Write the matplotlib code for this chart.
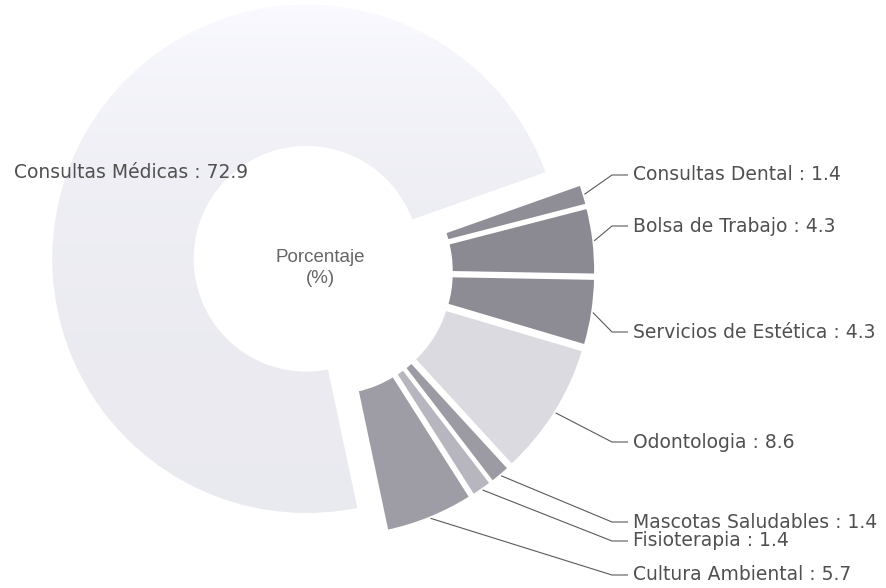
import numpy as np
import matplotlib
matplotlib.use("Agg")
import matplotlib.pyplot as plt

# ---- data ----
categories = ["Consultas Dental", "Bolsa de Trabajo", "Servicios de Estética",
              "Odontologia", "Mascotas Saludables", "Fisioterapia",
              "Cultura Ambiental", "Consultas Médicas"]
values = [1.4, 4.3, 4.3, 8.6, 1.4, 1.4, 5.7, 72.9]
center_title = "Porcentaje\n(%)"

# ---- style ----
colors = ["#8f8e97", "#8b8a93", "#8d8c95", "#dadae0", "#9c9ba4",
          "#b7b6be", "#9e9da5", "#ececf2"]
explode_px = [10, 10, 10, 10, 10, 10, 10, 27]   # offsets in pixels
W, H = 886, 588
cx, cy = 330, H - 272
R = 256
ring = 145
# label anchor positions (image pixel coords: x of text start, y centre)
label_y_img = [175, 226, 332, 442, 522, 541, 575]
label_x = 633
knee_x = 612
big_label_pos = (248, 173)

fig = plt.figure(figsize=(W / 100, H / 100), dpi=100)
ax = fig.add_axes([0, 0, 1, 1])
wedges, _ = ax.pie(values, colors=colors, explode=explode_px, startangle=19.5,
                   counterclock=False, center=(cx, cy), radius=R,
                   wedgeprops=dict(width=ring, edgecolor="white", linewidth=2.6))

# soft vertical shading on the large light slice (fades out towards the top)
big = wedges[-1]
big.set_facecolor("none")
yy = np.linspace(0, H, H)  # image rows from top
lev = np.interp(yy, [0, 60, 180, 350, H], [0.985, 0.965, 0.94, 0.925, 0.92])
grad = np.zeros((H, 1, 3))
grad[:, 0, 0] = lev - 0.005
grad[:, 0, 1] = lev - 0.005
grad[:, 0, 2] = lev + 0.02
grad = np.clip(grad, 0, 1)
im = ax.imshow(grad, extent=(0, W, 0, H), origin="upper", aspect="auto",
               zorder=big.get_zorder() - 0.5, interpolation="bilinear")
im.set_clip_path(big)

ax.set_xlim(0, W)
ax.set_ylim(0, H)
ax.set_aspect("auto")
ax.axis("off")

label_color = "#505050"
for i, (w, name, val) in enumerate(zip(wedges[:-1], categories[:-1], values[:-1])):
    mid = np.deg2rad((w.theta1 + w.theta2) / 2)
    x0 = w.center[0] + w.r * np.cos(mid)
    y0 = w.center[1] + w.r * np.sin(mid)
    ly = H - label_y_img[i]
    ax.plot([x0, knee_x, label_x - 5], [y0, ly, ly], color="#5a5a5a", lw=0.8,
            solid_capstyle="butt")
    ax.text(label_x, ly, f"{name} : {val}", ha="left", va="center",
            fontsize=13.5, family="DejaVu Sans", color=label_color)

ax.text(big_label_pos[0], H - big_label_pos[1], f"{categories[-1]} : {values[-1]}",
        ha="right", va="center", fontsize=13.5, family="DejaVu Sans",
        color=label_color)

ax.text(320, H - 268, center_title, ha="center", va="center", fontsize=13.5,
        family="Liberation Sans", color="#666666", linespacing=1.35)

fig.savefig("out.png", dpi=100)
